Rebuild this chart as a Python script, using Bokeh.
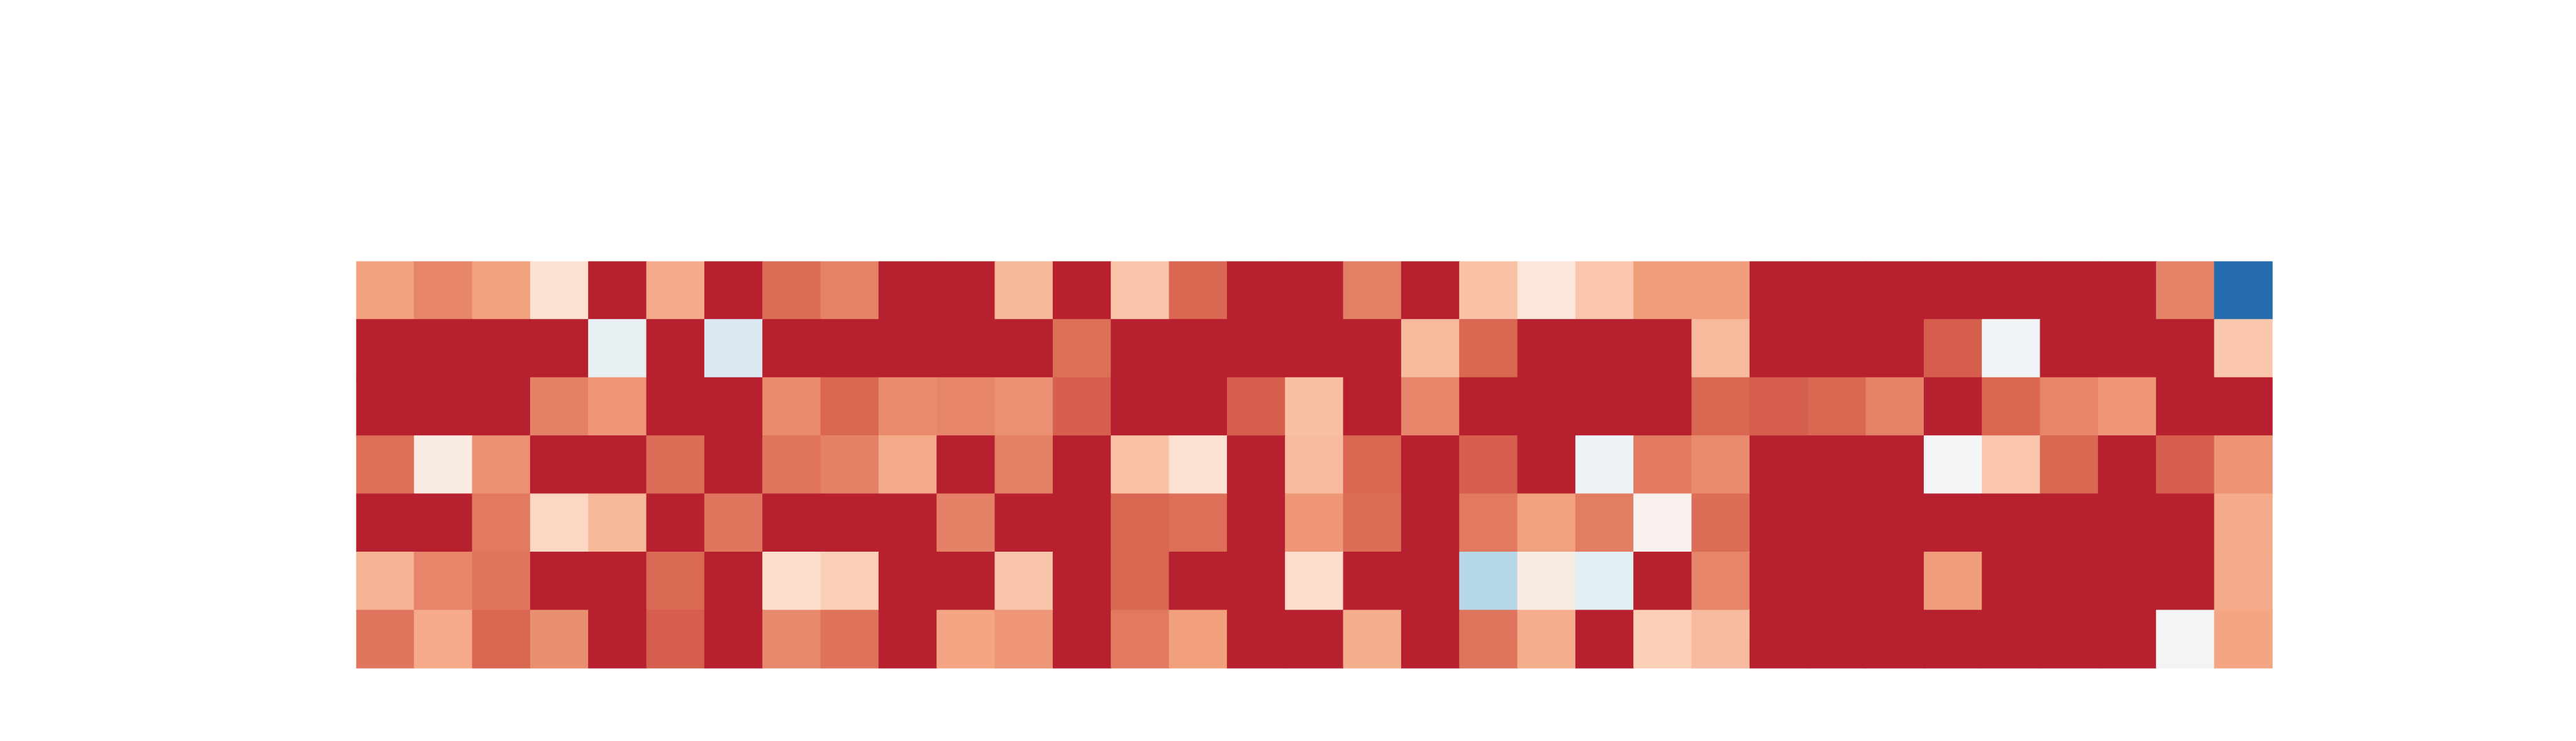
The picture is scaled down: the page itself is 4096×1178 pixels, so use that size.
import numpy as np
from bokeh.plotting import figure
from bokeh.models import ColumnDataSource, LinearColorMapper, Range1d
from bokeh.transform import transform
from bokeh.embed import file_html
from bokeh.resources import INLINE

# ---- data: 7 rows x 33 columns, values on a -1..1 scale (1 = saturated red) ----
row0 = [0.53, 0.64, 0.53, 0.21, 1, 0.49, 1, 0.73, 0.65, 1, 1, 0.43, 1, 0.37, 0.75, 1, 1,
        0.66, 1, 0.375, 0.16, 0.35, 0.55, 0.55, 1, 1, 1, 1, 1, 1, 1, 0.65, -1]
row1 = [1, 1, 1, 1, -0.1, 1, -0.19, 1, 1, 1, 1, 1, 0.72, 1, 1, 1, 1,
        1, 0.42, 0.75, 1, 1, 1, 0.42, 1, 1, 1, 0.785, -0.045, 1, 1, 1, 0.35]
row2 = [1, 1, 1, 0.656, 0.576, 1, 1, 0.61, 0.753, 0.61, 0.64, 0.6, 0.774, 1, 1, 0.788, 0.39,
        1, 0.64, 1, 1, 1, 1, 0.753, 0.788, 0.75, 0.65, 1, 0.753, 0.638, 0.576, 1, 1]
row3 = [0.72, 0.107, 0.6, 1, 1, 0.73, 1, 0.696, 0.652, 0.495, 1, 0.656, 1, 0.375, 0.196, 1, 0.41,
        0.753, 1, 0.774, 1, -0.078, 0.68, 0.61, 1, 1, 1, -0.02, 0.352, 0.753, 1, 0.785, 0.58]
row4 = [1, 1, 0.68, 0.278, 0.43, 1, 0.696, 1, 1, 1, 0.656, 1, 1, 0.753, 0.721, 1, 0.569,
        0.725, 1, 0.68, 0.536, 0.67, 0.0625, 0.728, 1, 1, 1, 1, 1, 1, 1, 1, 0.495]
row5 = [0.449, 0.641, 0.696, 1, 1, 0.746, 1, 0.241, 0.315, 1, 1, 0.366, 1, 0.75, 1, 1, 0.24,
        1, 1, -0.367, 0.098, -0.135, 1, 0.638, 1, 1, 1, 0.547, 1, 1, 1, 1, 0.495]
row6 = [0.696, 0.491, 0.753, 0.605, 1, 0.788, 1, 0.623, 0.707, 1, 0.518, 0.576, 1, 0.678, 0.54, 1, 1,
        0.472, 1, 0.699, 0.472, 1, 0.324, 0.407, 1, 1, 1, 1, 1, 1, 1, -0.04, 0.518]
rows = [row0, row1, row2, row3, row4, row5, row6]

# ---- colour scale: continuous RdBu (9-class), blue low -> red high ----
stops = ["#2166ac", "#4393c3", "#92c5de", "#d1e5f0", "#f7f7f7",
         "#fddbc7", "#f4a582", "#d6604d", "#b2182b"]
rgb = np.array([[int(s[i:i + 2], 16) for i in (1, 3, 5)] for s in stops], dtype=float)
pos = np.linspace(0, 1, len(stops))
t = np.linspace(0, 1, 256)
interp = np.stack([np.interp(t, pos, rgb[:, k]) for k in range(3)], axis=1)
palette = ["#%02x%02x%02x" % tuple(int(round(c)) for c in col) for col in interp]
mapper = LinearColorMapper(palette=palette, low=-1.04, high=1.04)

xs, ys, vs = [], [], []
for r, vals in enumerate(rows):
    for c, v in enumerate(vals):
        xs.append(c)
        ys.append(r)
        vs.append(v)
src = ColumnDataSource(dict(x=xs, y=ys, v=vs))

ncol = len(row0)
nrow = len(rows)

p = figure(width=4080, height=1162, output_backend="svg", toolbar_location=None,
           x_range=Range1d(-0.5, ncol - 0.5), y_range=Range1d(nrow - 0.5, -0.5),
           min_border_left=566, min_border_right=467, min_border_top=415, min_border_bottom=100)
p.rect(x="x", y="y", width=1, height=1, source=src,
       fill_color=transform("v", mapper), line_color=transform("v", mapper), line_width=1.2)

p.axis.visible = False
p.grid.visible = False
p.outline_line_color = None
p.background_fill_color = "white"
p.border_fill_color = "white"

open("out.html", "w").write(file_html(p, INLINE))
